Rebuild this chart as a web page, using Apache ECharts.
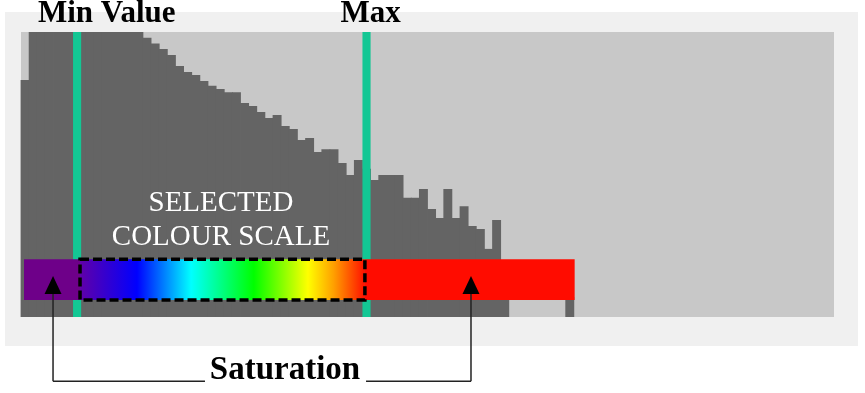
<!DOCTYPE html>
<html>
<head>
<meta charset="utf-8">
<script src="https://cdn.jsdelivr.net/npm/echarts@6/dist/echarts.min.js"></script>
<style>html,body{margin:0;padding:0;background:#fff}#c{width:865px;height:393px}</style>
</head>
<body>
<div id="c"></div>
<script>
// ---- data ----
const bins = ["0","1","2","3","4","5","6","7","8","9","10","11","12","13","14","15","16","17","18","19","20","21","22","23","24","25","26","27","28","29","30","31","32","33","34","35","36","37","38","39","40","41","42","43","44","45","46","47","48","49","50","51","52","53","54","55","56","57","58","59","60","61","62","63","64","65","66","67","68","69","70","71","72","73","74","75","76","77","78","79","80","81","82","83","84","85","86","87","88","89","90","91","92","93","94","95","96","97","98","99"];
const counts = [832,1000,1000,1000,1000,1000,1000,1000,1000,1000,1000,1000,1000,1000,1000,
  980,960,940,919,881,860,849,828,811,800,
  789,789,751,740,719,698,709,670,660,621,
  628,579,589,589,540,498,551,520,481,498,
  498,498,418,418,449,379,347,449,347,389,
  319,309,239,340,130,0,0,0,0,0,0,0,70,0,
  0,0,0,0,0,0,0,0,0,0,
  0,0,0,0,0,0,0,0,0,0,
  0,0,0,0,0,0,0,0,0,0,
  0,0];
const yMax = 1000;
const markers = [6.9, 42.5];           // Min Value, Max
const markerLabels = ["Min Value", "Max"];
const saturationLow = [0.37, 7.26];
const scaleRange = [7.26, 42.3];
const saturationHigh = [42.3, 68.1];
const barBand = [60, 203];
const arrowX = [3.94, 55.35];
const arrowTipBase = [144, 81];
const saturationLineY = -225;
const saturationText = "Saturation";
const scaleText = ["SELECTED", "COLOUR SCALE"];

const chart = echarts.init(document.getElementById('c'));
const serif = '"Liberation Serif", "DejaVu Serif", serif';

chart.setOption({
  animation: false,
  backgroundColor: '#ffffff',
  graphic: { elements: [{ type: 'rect', z: -100, left: 5, top: 12, shape: { width: 853, height: 334 }, style: { fill: '#f0f0f0' } }] },
  grid: { left: 21, top: 32, width: 813, height: 285, show: true, backgroundColor: '#c8c8c8', borderWidth: 0 },
  xAxis: [
    { type: 'category', data: bins, show: false, boundaryGap: true },
    { type: 'value', min: 0, max: 100, show: false }
  ],
  yAxis: { type: 'value', min: 0, max: yMax, show: false },
  series: [
    {
      type: 'custom', z: 1, xAxisIndex: 0, silent: true,
      data: counts.map((v, i) => [i, v]),
      renderItem: (params, api) => {
        const v = api.value(1);
        if (!v) return null;
        const top = api.coord([api.value(0), v]);
        const size = api.size([1, v]);
        return { type: 'rect', shape: { x: top[0] - size[0] / 2 - 0.4, y: top[1], width: size[0] + 0.8, height: size[1] }, style: { fill: '#646464' } };
      }
    },
    {
      type: 'custom', z: 5, xAxisIndex: 1, clip: false, silent: true,
      data: markers.map((m, i) => [m, i]),
      renderItem: (params, api) => {
        const x = api.value(0), i = api.value(1);
        const p0 = api.coord([x - 0.5, yMax]);
        const p1 = api.coord([x + 0.5, 0]);
        const children = [{ type: 'rect', shape: { x: p0[0], y: p0[1], width: p1[0] - p0[0], height: p1[1] - p0[1] }, style: { fill: '#13c794' } }];
        const lab = markerLabels[i];
        const isMin = i === 0;
        const tp = isMin ? api.coord([2.09, 1010]) : api.coord([x + 0.5, 1010]);
        children.push({ type: 'text', style: { text: lab, x: tp[0], y: tp[1], fill: '#000', font: 'bold 31px ' + serif, align: isMin ? 'left' : 'center', verticalAlign: 'bottom' } });
        return { type: 'group', children };
      }
    },
    {
      type: 'custom', z: 6, xAxisIndex: 1, clip: false, silent: true,
      data: [[0, 0]],
      renderItem: (params, api) => {
        const rect = (r) => {
          const a = api.coord([r[0], barBand[1]]), b = api.coord([r[1], barBand[0]]);
          return { x: a[0], y: a[1], width: b[0] - a[0], height: b[1] - a[1] };
        };
        const g = rect(scaleRange);
        const t1 = api.coord([24.6, 347]);
        const t2 = api.coord([24.6, 228]);
        return { type: 'group', children: [
          { type: 'text', style: { text: scaleText[0], x: t1[0], y: t1[1], fill: '#fff', font: '29px ' + serif, align: 'center', verticalAlign: 'bottom' } },
          { type: 'text', style: { text: scaleText[1], x: t2[0], y: t2[1], fill: '#fff', font: '29px ' + serif, align: 'center', verticalAlign: 'bottom' } },
          { type: 'rect', shape: rect(saturationLow), style: { fill: '#6e0089' } },
          { type: 'rect', shape: rect(saturationHigh), style: { fill: '#ff0c00' } },
          { type: 'rect', shape: g, style: { fill: new echarts.graphic.LinearGradient(0, 0, 1, 0, [
            { offset: 0, color: '#6000a8' },
            { offset: 0.2, color: '#0000ff' },
            { offset: 0.39, color: '#00ffff' },
            { offset: 0.61, color: '#00ff00' },
            { offset: 0.8, color: '#ffff00' },
            { offset: 0.89, color: '#ffa000' },
            { offset: 1, color: '#ff1000' }
          ]) } },
          { type: 'rect', shape: g, style: { fill: 'none', stroke: '#000', lineWidth: 3.5, lineDash: [9, 4] } }
        ] };
      }
    },
    {
      type: 'custom', z: 7, xAxisIndex: 1, clip: false, silent: true,
      data: [[0, 0]],
      renderItem: (params, api) => {
        const children = [];
        arrowX.forEach((x) => {
          const tip = api.coord([x, arrowTipBase[0]]);
          const base = api.coord([x, arrowTipBase[1]]);
          const bottom = api.coord([x, saturationLineY]);
          children.push({ type: 'line', shape: { x1: base[0], y1: base[1], x2: bottom[0], y2: bottom[1] }, style: { stroke: '#222', lineWidth: 1.5 } });
          children.push({ type: 'polygon', shape: { points: [[tip[0], tip[1]], [tip[0] - 8.5, base[1]], [tip[0] + 8.5, base[1]]] }, style: { fill: '#000' } });
        });
        const l0 = api.coord([arrowX[0], saturationLineY]);
        const l1 = api.coord([22.63, saturationLineY]);
        const r0 = api.coord([42.44, saturationLineY]);
        const r1 = api.coord([arrowX[1], saturationLineY]);
        children.push({ type: 'line', shape: { x1: l0[0], y1: l0[1], x2: l1[0], y2: l1[1] }, style: { stroke: '#222', lineWidth: 1.5 } });
        children.push({ type: 'line', shape: { x1: r0[0], y1: r0[1], x2: r1[0], y2: r1[1] }, style: { stroke: '#222', lineWidth: 1.5 } });
        const tc = api.coord([32.47, -246]);
        children.push({ type: 'text', style: { text: saturationText, x: tc[0], y: tc[1], fill: '#000', font: 'bold 33px ' + serif, align: 'center', verticalAlign: 'bottom' } });
        return { type: 'group', children };
      }
    }
  ]
});
</script>
</body>
</html>
